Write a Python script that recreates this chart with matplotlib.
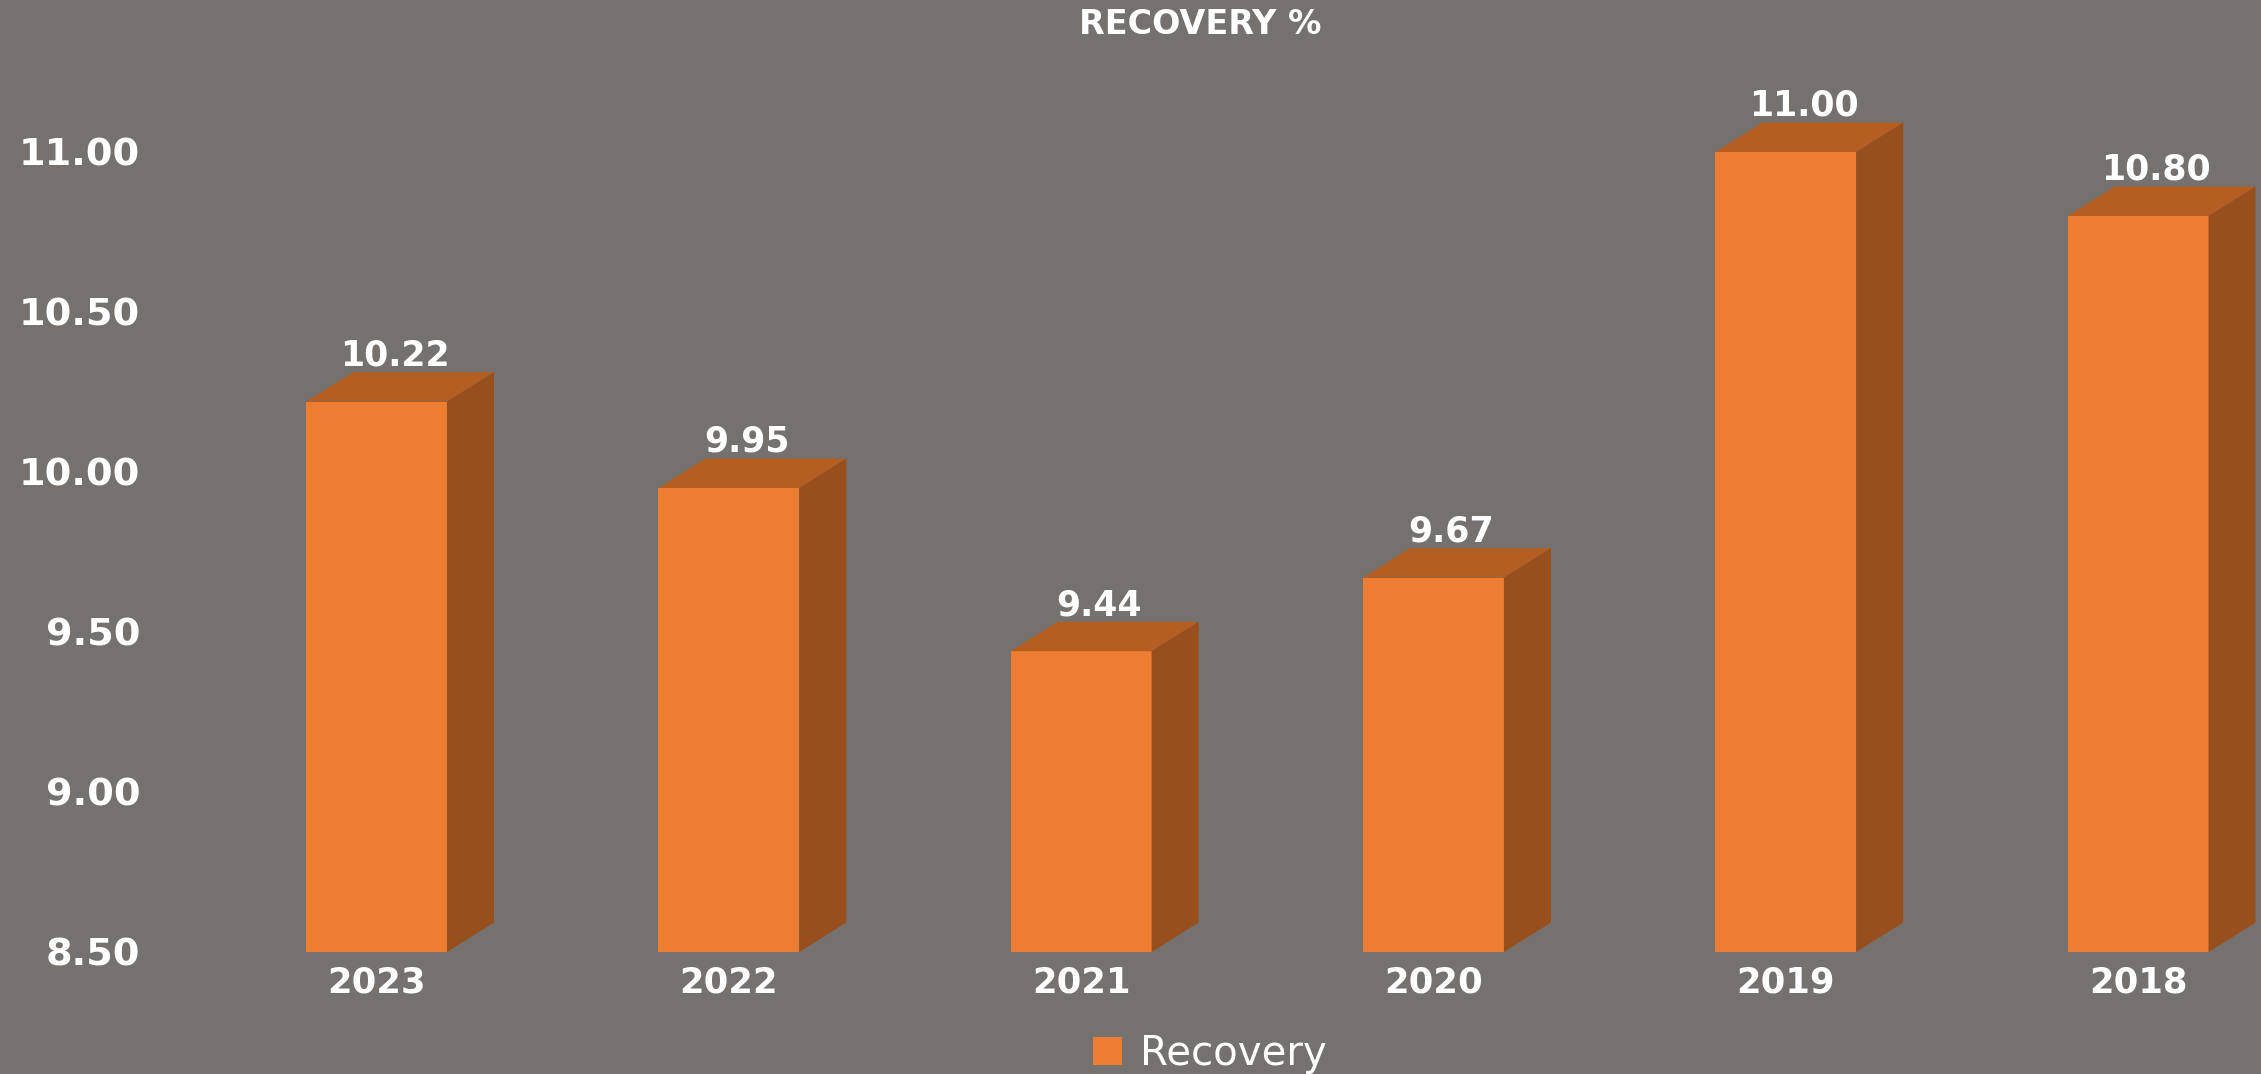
import matplotlib
matplotlib.use("Agg")
import matplotlib.pyplot as plt
from matplotlib.patches import Polygon, Patch

# Data
years = ["2023", "2022", "2021", "2020", "2019", "2018"]
recovery = [10.22, 9.95, 9.44, 9.67, 11.00, 10.80]
y_ticks = [8.50, 9.00, 9.50, 10.00, 10.50, 11.00]

# Styling
bg = "#75716F"
front_c = "#ED7D31"
top_c = "#B45E22"
side_c = "#984F1E"
base = 8.5
bar_w = 0.40
depth_x = 0.1334   # horizontal offset of the back face (data units)
depth_y = 0.092    # vertical offset of the back face (data units)

W, H = 2261, 1074
fig = plt.figure(figsize=(W / 100, H / 100), dpi=100, facecolor=bg)
ax = fig.add_axes([150 / W, (H - 952) / H, (W - 150) / W, (952 - 72) / H])
ax.set_facecolor(bg)

x = list(range(len(years)))
ax.bar(x, [v - base for v in recovery], bottom=base, width=bar_w,
       color=front_c, linewidth=0, zorder=3)

for xi, v in zip(x, recovery):
    l, r = xi - bar_w / 2, xi + bar_w / 2
    top = Polygon([(l, v), (r, v), (r + depth_x, v + depth_y), (l + depth_x, v + depth_y)],
                  closed=True, facecolor=top_c, edgecolor="none", zorder=3)
    side = Polygon([(r, base), (r + depth_x, base + depth_y), (r + depth_x, v + depth_y), (r, v)],
                   closed=True, facecolor=side_c, edgecolor="none", zorder=3)
    ax.add_patch(top)
    ax.add_patch(side)
    ax.annotate(f"{v:.2f}", xy=(xi + depth_x / 2, v + depth_y), xytext=(-4, 12),
                textcoords="offset points", ha="center", va="center",
                color="white", fontsize=25, fontweight="bold",
                fontfamily="DejaVu Sans", zorder=5)

ax.set_xlim(-0.643, 5.349)
ax.set_ylim(8.5, 11.25)
ax.set_yticks(y_ticks)
ax.set_yticklabels([f"{t:.2f}" for t in y_ticks])
ax.set_xticks(x)
ax.set_xticklabels(years)
ax.tick_params(axis="y", length=0, pad=7, labelsize=27.5, labelcolor="white")
ax.tick_params(axis="x", length=0, pad=10, labelsize=25.5, labelcolor="white")
for lab in ax.get_xticklabels() + ax.get_yticklabels():
    lab.set_fontweight("bold")
for s in ax.spines.values():
    s.set_visible(False)

fig.text(1200 / W, 1 - 24 / H, "RECOVERY %", ha="center", va="center",
         color="white", fontsize=24, fontweight="bold")

handle = Patch(facecolor=front_c, edgecolor="none", label="Recovery")
fig.legend(handles=[handle], loc="center", bbox_to_anchor=(1210 / W, 1 - 1054 / H),
           frameon=False, fontsize=29, labelcolor="white",
           handlelength=0.72, handleheight=0.72, handletextpad=0.45)

fig.savefig("out.png", dpi=100, facecolor=bg)
